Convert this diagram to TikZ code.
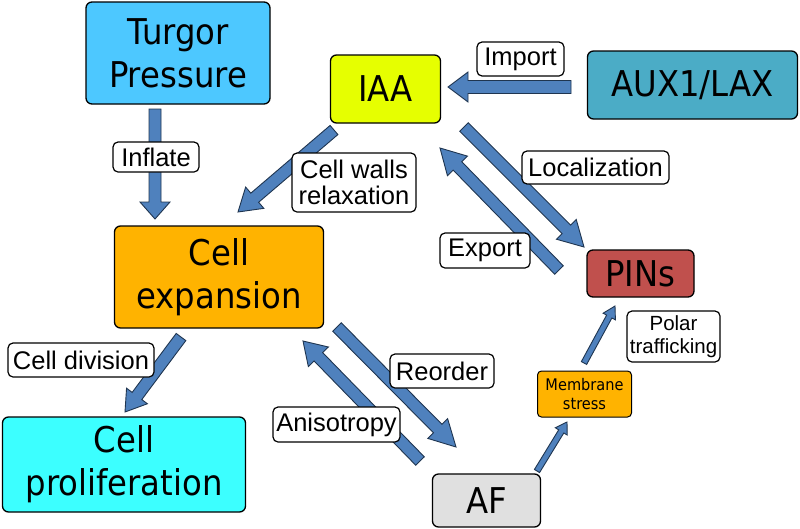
\documentclass[tikz,border=0pt]{standalone}
\usepackage{fontspec}
\setmainfont{DejaVu Sans}
\newfontfamily\boxfont[FakeStretch=0.91]{DejaVu Sans}
\newfontfamily\labfont{Liberation Sans}
\usetikzlibrary{calc}
\definecolor{turgorc}{HTML}{4DC8FF}
\definecolor{iaac}{HTML}{E6FF00}
\definecolor{auxc}{HTML}{4BACC6}
\definecolor{expc}{HTML}{FFB300}
\definecolor{prolc}{HTML}{3CFFFF}
\definecolor{pinc}{HTML}{C0504D}
\definecolor{afc}{HTML}{E0E0E0}
\definecolor{arrfill}{HTML}{4F81BD}
\definecolor{arredge}{HTML}{1F3550}
\tikzset{
  mainbox/.style={draw=black, line width=1.3pt, rounded corners=6pt, align=center, inner sep=0pt,
    font=\boxfont\fontsize{35.5}{43}\selectfont},
  smallbox/.style={draw=black, line width=1pt, rounded corners=4pt, align=center, inner sep=0pt,
    font=\boxfont\fontsize{16}{19}\selectfont},
  lbl/.style={draw=black, fill=white, line width=1.2pt, rounded corners=5pt, align=center, inner sep=0pt,
    font=\labfont\fontsize{25.5}{26}\selectfont},
  barrow/.style={fill=arrfill, draw=arredge, line width=0.9pt, line join=miter},
}
\newcommand\blockarrow[5]{%
  \coordinate (bh) at ($(#2)!#5!(#1)$);
  \draw[barrow] ($(#1)!#3!90:(#2)$) -- ($(bh)!#3!90:(#2)$) -- ($(bh)!#4!90:(#2)$) -- (#2)
    -- ($(bh)!#4!-90:(#2)$) -- ($(bh)!#3!-90:(#2)$) -- ($(#1)!#3!-90:(#2)$) -- cycle;
}
\begin{document}
\begin{tikzpicture}[x=1pt,y=-1pt]
\useasboundingbox (0,0) rectangle (800,528);
% main nodes
\node[mainbox, fill=turgorc, minimum width=184pt, minimum height=102pt] (turgor) at (178,53) {Turgor\\Pressure};
\node[mainbox, fill=iaac, minimum width=110pt, minimum height=68pt] (iaa) at (385.5,89) {IAA};
\node[mainbox, fill=auxc, minimum width=210pt, minimum height=68pt] (aux) at (692.5,85) {AUX1/LAX};
\node[mainbox, fill=expc, minimum width=209pt, minimum height=102pt] (exp) at (219,277) {Cell\\expansion};
\node[mainbox, fill=prolc, minimum width=243pt, minimum height=95pt] (prol) at (124,464.5) {Cell\\proliferation};
\node[mainbox, fill=pinc, minimum width=107pt, minimum height=47pt] (pins) at (640.5,273.5) {PINs};
\node[mainbox, fill=afc, minimum width=108pt, minimum height=53pt] (af) at (486.5,500.5) {AF};
\node[smallbox, fill=expc, minimum width=94pt, minimum height=46pt] (mem) at (584.5,394) {Membrane\\stress};
% arrow end points
\coordinate (a1s) at (155,109);  \coordinate (a1e) at (155,219);
\coordinate (a2s) at (334,130);  \coordinate (a2e) at (238,212);
\coordinate (a3s) at (571,87);   \coordinate (a3e) at (448,87);
\coordinate (a4s) at (464,127);  \coordinate (a4e) at (584,247);
\coordinate (a5s) at (559,270);  \coordinate (a5e) at (440,148);
\coordinate (a6s) at (181,337);  \coordinate (a6e) at (125,412);
\coordinate (a7s) at (420,461);  \coordinate (a7e) at (303,341);
\coordinate (a8s) at (337,327);  \coordinate (a8e) at (456,447);
\coordinate (a9s) at (537,471);  \coordinate (a9e) at (567,422);
\coordinate (a10s) at (584,363); \coordinate (a10e) at (615,306);
% arrows
\blockarrow{a1s}{a1e}{6pt}{15pt}{17pt}
\blockarrow{a2s}{a2e}{6pt}{14pt}{22pt}
\blockarrow{a3s}{a3e}{6.5pt}{15pt}{20pt}
\blockarrow{a4s}{a4e}{6pt}{14pt}{25pt}
\blockarrow{a5s}{a5e}{6pt}{14pt}{25pt}
\blockarrow{a6s}{a6e}{6pt}{13pt}{20pt}
\blockarrow{a7s}{a7e}{6pt}{14pt}{22pt}
\blockarrow{a8s}{a8e}{6pt}{14pt}{26pt}
\blockarrow{a9s}{a9e}{3pt}{7pt}{11pt}
\blockarrow{a10s}{a10e}{3pt}{7pt}{12pt}
% labels
\node[lbl, minimum width=86pt, minimum height=30pt] (linflate) at (156,157) {Inflate};
\node[lbl, minimum width=124pt, minimum height=59pt] (lrelax) at (354,182.5) {Cell walls\\relaxation};
\node[lbl, minimum width=87pt, minimum height=34pt] (limport) at (520.5,59) {Import};
\node[lbl, minimum width=147pt, minimum height=33pt] (lloc) at (595.5,167.5) {Localization};
\node[lbl, minimum width=90pt, minimum height=35pt] (lexport) at (485,250.5) {Export};
\node[lbl, minimum width=146pt, minimum height=34pt] (ldiv) at (81,360) {Cell division};
\node[lbl, minimum width=104pt, minimum height=34pt] (lreorder) at (442,371) {Reorder};
\node[lbl, minimum width=127pt, minimum height=35pt] (laniso) at (336.5,424.5) {Anisotropy};
\node[lbl, minimum width=93pt, minimum height=51pt, font=\labfont\fontsize{20.5}{23}\selectfont] (lpolar) at (673.5,336.5) {Polar\\trafficking};
\end{tikzpicture}
\end{document}
